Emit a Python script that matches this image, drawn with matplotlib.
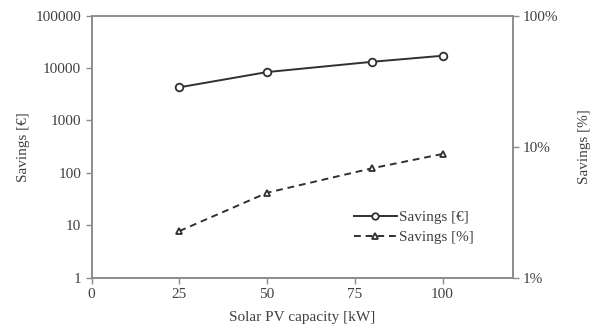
import numpy as np
import matplotlib
matplotlib.use('Agg')
from matplotlib import pyplot as plt
from matplotlib.ticker import FixedLocator, NullLocator

# data
capacity_kw = [25, 50, 80, 100]
savings_eur = [4300, 8400, 13200, 17200]
savings_pct = [2.27, 4.45, 6.85, 8.8]

x_ticks = [0, 25, 50, 75, 100]
left_ticks = [1, 10, 100, 1000, 10000, 100000]
left_labels = ['1', '10', '100', '1000', '10000', '100000']
right_ticks = [1, 10, 100]
right_labels = ['1%', '10%', '100%']

plt.rcParams['font.family'] = ['Liberation Serif', 'DejaVu Serif']
plt.rcParams['font.size'] = 11

text_col = '#404040'
axis_col = '#8c8c8c'
line_col = '#303030'

fig = plt.figure(figsize=(5.93, 3.27), dpi=100)
ax = fig.add_axes([0.1546, 0.1508, 0.71, 0.8012])
ax2 = ax.twinx()

# savings in euro on the left log axis
l1, = ax.plot(capacity_kw, savings_eur, color=line_col, lw=1.4, marker='o',
              ms=5.5, mfc='white', mec=line_col, mew=1.3, label='Savings [€]')
# savings in percent on the right log axis
l2, = ax2.plot(capacity_kw, savings_pct, color=line_col, lw=1.4, ls=(0, (3.5, 2.5)),
               marker='^', ms=5, mfc='white', mec=line_col, mew=1.3, label='Savings [%]')

ax.set_xlim(0, 120)
ax.set_yscale('log')
ax.set_ylim(1, 100000)
ax.xaxis.set_major_locator(FixedLocator(x_ticks))
ax.yaxis.set_major_locator(FixedLocator(left_ticks))
ax.yaxis.set_minor_locator(NullLocator())
ax.set_yticklabels(left_labels)

ax2.set_yscale('log')
ax2.set_ylim(1, 100)
ax2.yaxis.set_major_locator(FixedLocator(right_ticks))
ax2.yaxis.set_minor_locator(NullLocator())
ax2.set_yticklabels(right_labels)

for a in (ax, ax2):
    for sp in a.spines.values():
        sp.set_color(axis_col)
        sp.set_linewidth(1.2)
    a.tick_params(colors=axis_col, labelcolor=text_col, length=4, width=1.0,
                  direction='out', labelsize=11)

ax.set_xlabel('Solar PV capacity [kW]', color=text_col, fontsize=11, labelpad=7)
ax.set_ylabel('Savings [€]', color=text_col, fontsize=11, labelpad=4)
ax2.set_ylabel('Savings [%]', color=text_col, fontsize=11, labelpad=14)

leg = ax.legend(handles=[l1, l2], loc='upper left', bbox_to_anchor=(0.59, 0.31),
                frameon=False, handlelength=2.8, handletextpad=0.15,
                labelspacing=0.45, markerscale=0.85, fontsize=11)
for t in leg.get_texts():
    t.set_color(text_col)

fig.savefig('out.png', dpi=100)
